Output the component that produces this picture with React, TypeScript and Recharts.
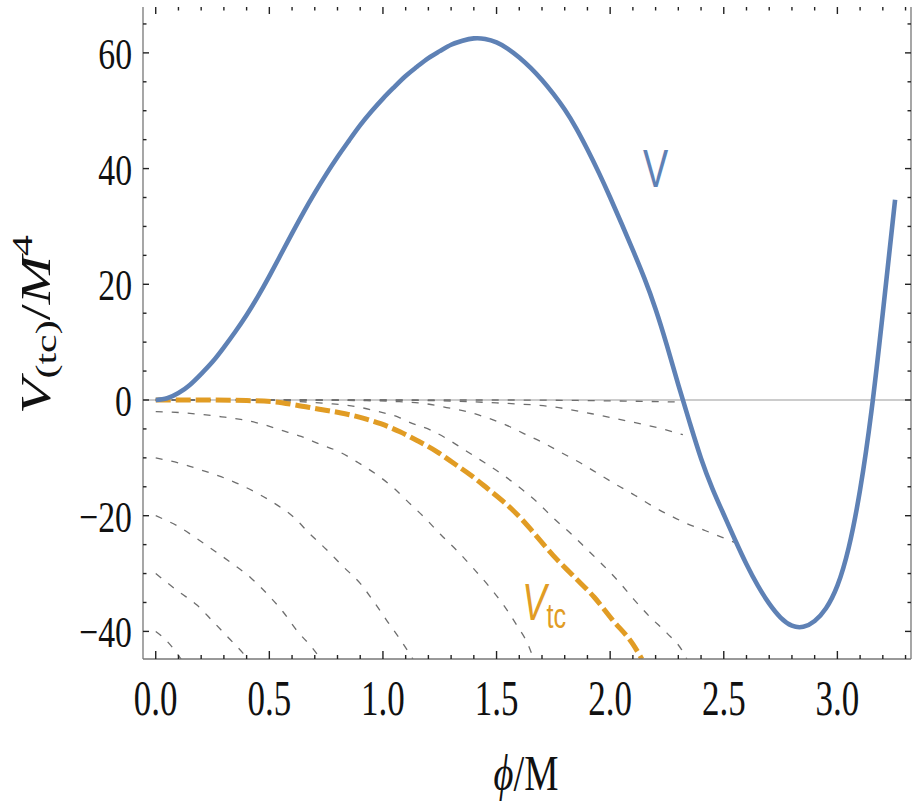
import { LineChart, Line, XAxis, YAxis, ReferenceLine, ReferenceDot } from "recharts";

type Pt = [number, number];

// V (blue, solid), read on an even 0.05 grid
const V_CURVE: Pt[] = [
  [0, 0], [0.05, 0.3], [0.1, 1.2], [0.15, 2.6], [0.2, 4.5], [0.25, 6.6], [0.3, 9.1],
  [0.35, 11.8], [0.4, 14.7], [0.45, 17.9], [0.5, 21.4], [0.55, 25.1], [0.6, 28.8],
  [0.65, 32.4], [0.7, 35.8], [0.75, 39.0], [0.8, 42.0], [0.85, 44.8], [0.9, 47.5],
  [0.95, 49.9], [1.0, 52.1], [1.05, 54.1], [1.1, 56.0], [1.15, 57.6], [1.2, 59.1],
  [1.25, 60.3], [1.3, 61.4], [1.35, 62.1], [1.4, 62.5], [1.45, 62.4], [1.5, 61.8],
  [1.55, 60.7], [1.6, 59.2], [1.65, 57.4], [1.7, 55.3], [1.75, 52.9], [1.8, 50.2],
  [1.85, 47.0], [1.9, 43.3], [1.95, 39.3], [2.0, 35.0], [2.05, 30.5], [2.1, 25.9],
  [2.15, 21.1], [2.2, 15.7], [2.25, 9.4], [2.3, 2.6], [2.35, -3.9], [2.4, -10.1],
  [2.45, -15.3], [2.5, -19.8], [2.55, -24.2], [2.6, -28.4], [2.65, -32.1], [2.7, -35.2],
  [2.75, -37.6], [2.8, -39.0], [2.85, -39.2], [2.9, -38.2], [2.95, -36.0], [3.0, -32.1],
  [3.05, -25.5], [3.1, -15.5], [3.15, -1.9], [3.2, 15.1], [3.254, 34.6],
];

// V_tc (orange, dashed)
const VTC_CURVE: Pt[] = [
  [0, 0], [0.2, 0], [0.4, -0.1], [0.52, -0.3], [0.62, -0.9], [0.72, -1.6], [0.81, -2.2],
  [0.9, -3.0], [0.99, -4.1], [1.075, -5.5], [1.15, -7.0], [1.24, -9.0], [1.31, -10.9],
  [1.39, -13.1], [1.46, -15.3], [1.54, -17.9], [1.62, -21.0], [1.66, -22.8],
  [1.75, -26.9], [1.84, -30.5], [1.93, -34.1], [2.01, -38.0], [2.1, -42.2], [2.14, -44.8],
];

// thin grey dashed family
const G_ZERO: Pt[] = [[0, 0], [1.5, 0], [2.0, -0.15], [2.31, -0.35]];
const G_Q: Pt[] = [
  [0, 0], [1.0, 0], [1.3, -0.2], [1.5, -0.5], [1.75, -1.2], [1.96, -2.7], [2.13, -4.1],
  [2.23, -5.0], [2.32, -6.0],
];
const G_R: Pt[] = [
  [0, 0], [0.6, 0], [0.9, -0.1], [1.05, -0.25], [1.18, -0.6], [1.28, -1.3], [1.37, -2.0],
  [1.46, -3.1], [1.54, -4.3], [1.62, -5.8], [1.7, -7.3], [1.79, -9.2], [1.87, -10.9],
  [1.95, -12.8], [2.03, -14.7], [2.11, -16.5], [2.18, -18.2], [2.27, -20.1],
  [2.34, -21.4], [2.42, -22.6], [2.49, -23.7], [2.56, -24.8],
];
const G_S: Pt[] = [
  [0, 0], [0.4, 0], [0.6, -0.2], [0.75, -0.6], [0.86, -1.0], [0.98, -2.0], [1.07, -3.0],
  [1.12, -3.9], [1.21, -5.2], [1.29, -6.9], [1.37, -8.9], [1.45, -10.9], [1.53, -13.0],
  [1.61, -15.4], [1.68, -17.7], [1.75, -20.4], [1.83, -23.2], [1.9, -25.9],
  [1.97, -28.6], [2.04, -31.5], [2.105, -34.5], [2.175, -37.5], [2.25, -40.3],
  [2.315, -43.2], [2.34, -45],
];
const G_M2: Pt[] = [
  [0, -2], [0.115, -2.2], [0.2, -2.5], [0.29, -2.9], [0.38, -3.4], [0.47, -4.2],
  [0.55, -5.2], [0.64, -6.3], [0.72, -7.6], [0.81, -9.0], [0.89, -10.8], [0.976, -13.0],
  [1.05, -15.3], [1.105, -17.4], [1.185, -20.4], [1.255, -23.3], [1.33, -26.2],
  [1.4, -29.2], [1.475, -32.6], [1.53, -35.4], [1.59, -39.0], [1.64, -42.4], [1.665, -45],
];
const G_M10: Pt[] = [
  [0, -10], [0.12, -11.1], [0.2, -12.1], [0.29, -13.3], [0.375, -14.7], [0.46, -16.4],
  [0.54, -18.3], [0.6, -20.0], [0.68, -23.2], [0.75, -25.8], [0.825, -28.8],
  [0.9, -31.7], [0.955, -34.6], [1.02, -38.3], [1.083, -41.8], [1.135, -45],
];
const G_M20: Pt[] = [
  [0, -20], [0.11, -22.1], [0.19, -24.2], [0.27, -26.4], [0.345, -28.5], [0.42, -30.8],
  [0.49, -33.5], [0.56, -36.6], [0.62, -39.8], [0.69, -42.9], [0.73, -45],
];
const G_M30: Pt[] = [
  [0, -30], [0.1, -33.1], [0.18, -35.4], [0.25, -38.2], [0.32, -41.1], [0.385, -43.8], [0.41, -45],
];
const G_M40: Pt[] = [[0, -40], [0.026, -40.8], [0.09, -43.6], [0.115, -45]];

const GREY_CURVES = [G_ZERO, G_Q, G_R, G_S, G_M2, G_M10, G_M20, G_M30, G_M40];

const X_TICKS = [
  0, 0.1, 0.2, 0.3, 0.4, 0.5, 0.6, 0.7, 0.8, 0.9, 1, 1.1, 1.2, 1.3, 1.4, 1.5, 1.6, 1.7,
  1.8, 1.9, 2, 2.1, 2.2, 2.3, 2.4, 2.5, 2.6, 2.7, 2.8, 2.9, 3, 3.1, 3.2, 3.3,
];
const X_MAJOR = [0, 0.5, 1, 1.5, 2, 2.5, 3];
const Y_TICKS = [-40, -35, -30, -25, -20, -15, -10, -5, 0, 5, 10, 15, 20, 25, 30, 35, 40, 45, 50, 55, 60, 65];
const Y_MAJOR = [-40, -20, 0, 20, 40, 60];

const X_DOMAIN = [-0.056, 3.324];
const Y_DOMAIN = [-44.77, 67.93];

const SERIF = '"Liberation Serif", "Times New Roman", serif';
const SANS = '"Liberation Sans", Arial, sans-serif';
const BLUE = "#5e81b5";
const ORANGE = "#e19c24";
const TICK_COLOR = "#222";

const rows = (pts: Pt[]) => pts.map(([x, y]) => ({ x, y }));

const fmtY = (v: number) => (v < 0 ? "\u2212" + Math.abs(v) : String(v));

function BottomTick(props: any) {
  const { x, y, payload } = props;
  const major = X_MAJOR.includes(payload.value);
  return (
    <g>
      <line x1={x} x2={x} y1={y} y2={y - (major ? 8 : 4)} stroke={TICK_COLOR} strokeWidth={1.4} />
      {major && (
        <text
          transform={`translate(${x},${y + 56}) scale(0.7,1)`}
          textAnchor="middle"
          fontFamily={SERIF}
          fontSize={50}
          fill="#111"
        >
          {payload.value.toFixed(1)}
        </text>
      )}
    </g>
  );
}

function TopTick(props: any) {
  const { x, y, payload } = props;
  const major = X_MAJOR.includes(payload.value);
  return <line x1={x} x2={x} y1={y} y2={y + (major ? 7 : 3.5)} stroke={TICK_COLOR} strokeWidth={1.4} />;
}

function LeftTick(props: any) {
  const { x, y, payload } = props;
  const major = Y_MAJOR.includes(payload.value);
  return (
    <g>
      <line x1={x} x2={x + (major ? 6 : 3.5)} y1={y} y2={y} stroke={TICK_COLOR} strokeWidth={1.4} />
      {major && (
        <text
          transform={`translate(${x - 11},${y + 16}) scale(0.75,1)`}
          textAnchor="end"
          fontFamily={SERIF}
          fontSize={45}
          fill="#111"
        >
          {fmtY(payload.value)}
        </text>
      )}
    </g>
  );
}

function RightTick(props: any) {
  const { x, y, payload } = props;
  const major = Y_MAJOR.includes(payload.value);
  return <line x1={x} x2={x - (major ? 6 : 3.5)} y1={y} y2={y} stroke={TICK_COLOR} strokeWidth={1.4} />;
}

function YTitle() {
  return (
    <text transform="translate(50,414) scale(0.72,1) rotate(-90)" fontFamily={SERIF} fontSize={58} fill="#111">
      <tspan fontStyle="italic">V</tspan>
      <tspan fontSize={42} dy={9}>(tc)</tspan>
      <tspan dy={-9}>/</tspan>
      <tspan fontStyle="italic">M</tspan>
      <tspan fontSize={42} dy={-25}>4</tspan>
    </text>
  );
}

function XTitle() {
  return (
    <text transform="translate(526,790) scale(0.77,1)" textAnchor="middle" fontFamily={SERIF} fontSize={50} fill="#111">
      <tspan fontStyle="italic">ϕ</tspan>
      <tspan>/M</tspan>
    </text>
  );
}

export default function App() {
  return (
    <div style={{ position: "absolute", left: 0, top: 0, background: "#fff" }}>
      <LineChart width={919} height={803} margin={{ top: 0, right: 0, bottom: 0, left: 0 }}>
        <XAxis
          xAxisId="b"
          type="number"
          dataKey="x"
          domain={X_DOMAIN}
          allowDataOverflow
          ticks={X_TICKS}
          interval={0}
          height={144}
          tickSize={0}
          tickMargin={0}
          tickLine={false}
          axisLine={{ stroke: "#777", strokeWidth: 1.3 }}
          tick={<BottomTick />}
          label={<XTitle />}
        />
        <XAxis
          xAxisId="t"
          orientation="top"
          type="number"
          dataKey="x"
          domain={X_DOMAIN}
          allowDataOverflow
          ticks={X_TICKS}
          interval={0}
          height={7}
          tickSize={0}
          tickMargin={0}
          tickLine={false}
          axisLine={false}
          tick={<TopTick />}
        />
        <YAxis
          yAxisId="l"
          type="number"
          domain={Y_DOMAIN}
          allowDataOverflow
          ticks={Y_TICKS}
          interval={0}
          width={143}
          tickSize={0}
          tickMargin={0}
          tickLine={false}
          axisLine={{ stroke: "#777", strokeWidth: 1.3 }}
          tick={<LeftTick />}
          label={<YTitle />}
        />
        <YAxis
          yAxisId="r"
          orientation="right"
          type="number"
          domain={Y_DOMAIN}
          allowDataOverflow
          ticks={Y_TICKS}
          interval={0}
          width={8}
          tickSize={0}
          tickMargin={0}
          tickLine={false}
          axisLine={{ stroke: "#777", strokeWidth: 1.3 }}
          tick={<RightTick />}
        />
        <ReferenceLine xAxisId="b" yAxisId="l" y={0} stroke="#9a9a9a" strokeWidth={1.2} />
        {GREY_CURVES.map((pts, i) => (
          <Line
            key={i}
            xAxisId="b"
            yAxisId="l"
            data={rows(pts)}
            dataKey="y"
            type="monotoneX"
            stroke="#6e6e6e"
            strokeWidth={1.3}
            strokeDasharray="7 9"
            dot={false}
            activeDot={false}
            isAnimationActive={false}
          />
        ))}
        <Line
          xAxisId="b"
          yAxisId="l"
          data={rows(VTC_CURVE)}
          dataKey="y"
          type="monotoneX"
          stroke={ORANGE}
          strokeWidth={5}
          strokeDasharray="15 5"
          dot={false}
          activeDot={false}
          isAnimationActive={false}
        />
        <Line
          xAxisId="b"
          yAxisId="l"
          data={rows(V_CURVE)}
          dataKey="y"
          type="natural"
          stroke={BLUE}
          strokeWidth={4.6}
          dot={false}
          activeDot={false}
          isAnimationActive={false}
        />
        <ReferenceDot
          xAxisId="b"
          yAxisId="l"
          x={2.2}
          y={36.8}
          r={0}
          shape={(p: any) => (
            <text transform={`translate(${p.cx},${p.cy}) scale(0.7,1)`} textAnchor="middle" fontFamily={SANS} fontSize={54} fill={BLUE}>
              V
            </text>
          )}
        />
        <ReferenceDot
          xAxisId="b"
          yAxisId="l"
          x={1.613}
          y={-38.0}
          r={0}
          shape={(p: any) => (
            <text transform={`translate(${p.cx},${p.cy}) scale(0.7,1)`} fontFamily={SANS} fontSize={52} fill={ORANGE}>
              <tspan fontStyle="italic">V</tspan>
              <tspan fontSize={36} dy={8}>tc</tspan>
            </text>
          )}
        />
      </LineChart>
    </div>
  );
}
